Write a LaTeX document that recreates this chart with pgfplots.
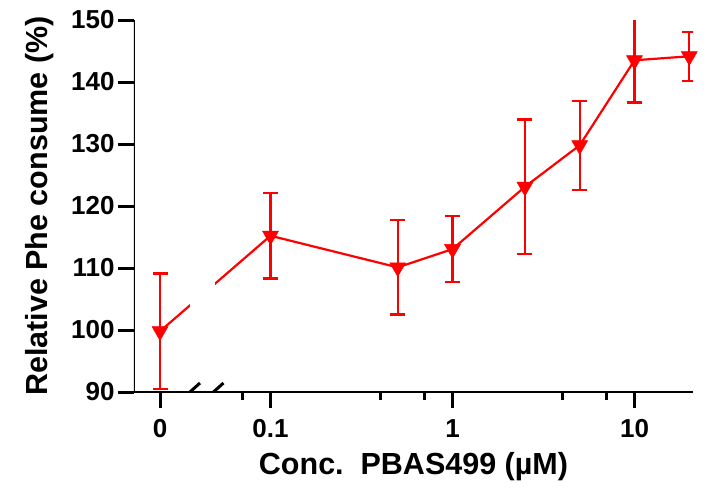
\documentclass[border=0pt]{standalone}
\usepackage{fontspec}
\setmainfont{Liberation Sans}
\usepackage{pgfplots}
\pgfplotsset{compat=1.18}
\definecolor{pred}{RGB}{255,0,0}
\begin{document}
\begin{tikzpicture}
\begin{axis}[
  name=ax,
  scale only axis,
  width=559pt, height=372pt,
  xmode=log,
  xmin=0.01778, xmax=20.96,
  ymin=90, ymax=150,
  axis x line=bottom,
  axis y line=left,
  axis line style={draw=none},
  tick align=outside,
  major tick length=16pt,
  minor tick length=8pt,
  every tick/.style={black, line width=3pt},
  every major tick/.append style={black, line width=3pt},
  every minor tick/.append style={black, line width=3pt},
  xtick={0.02471,0.1,1,10},
  xticklabels={0,0.1,1,10},
  minor xtick={0.07,0.4,0.7,4,7},
  ytick={90,100,...,150},
  /pgf/number format/assume math mode=true,
  tick label style={font=\fontsize{26}{30}\selectfont\bfseries},
  xticklabel style={yshift=-8pt},
  every axis x label/.style={at={(axis description cs:0.5,0)}, anchor=center, yshift=-75pt},
  every axis y label/.style={at={(axis description cs:0,0.5)}, xshift=-94pt, anchor=center, rotate=90},
  label style={font=\fontsize{30.5}{34}\selectfont\bfseries},
  xlabel={Conc.\ \ PBAS499 (µM)},
  ylabel={Relative Phe consume (\%)},
]
\addplot[pred, line width=2.2pt, mark=triangle*, mark size=9.2pt,
  mark options={rotate=180, fill=pred, draw=pred, line width=0.5pt},
  error bars/.cd, y dir=both, y explicit,
  error bar style={pred, line width=2.2pt},
  error mark options={pred, line width=2.2pt, mark size=7.5pt, rotate=90}]
coordinates {
  (0.02471,99.8) +- (0,9.3)
  (0.1,115.2) +- (0,6.9)
  (0.5,110.1) +- (0,7.6)
  (1,113.05) +- (0,5.35)
  (2.5,123.1) +- (0,10.85)
  (5,129.8) +- (0,7.2)
  (10,143.5) +- (0,6.8)
  (20,144.15) +- (0,3.95)
};
% gap in the connecting line at the axis break
\fill[white] (axis cs:0.0361,102) rectangle (axis cs:0.0493,110);
% axis lines
\draw[black, line width=3pt] (axis description cs:0,1) -- (axis description cs:0,0) -- (axis description cs:1,0);
% axis break marks
\draw[black, line width=3pt] ([xshift=-10pt,yshift=-9pt]axis cs:0.0361,90) -- ([xshift=10pt,yshift=9pt]axis cs:0.0361,90);
\draw[black, line width=3pt] ([xshift=-10pt,yshift=-9pt]axis cs:0.0486,90) -- ([xshift=10pt,yshift=9pt]axis cs:0.0486,90);
\end{axis}
\pgfresetboundingbox
\path ([shift={(-134pt,-98pt)}]ax.south west) rectangle ([shift={(574pt,392pt)}]ax.south west);
\end{tikzpicture}
\end{document}
